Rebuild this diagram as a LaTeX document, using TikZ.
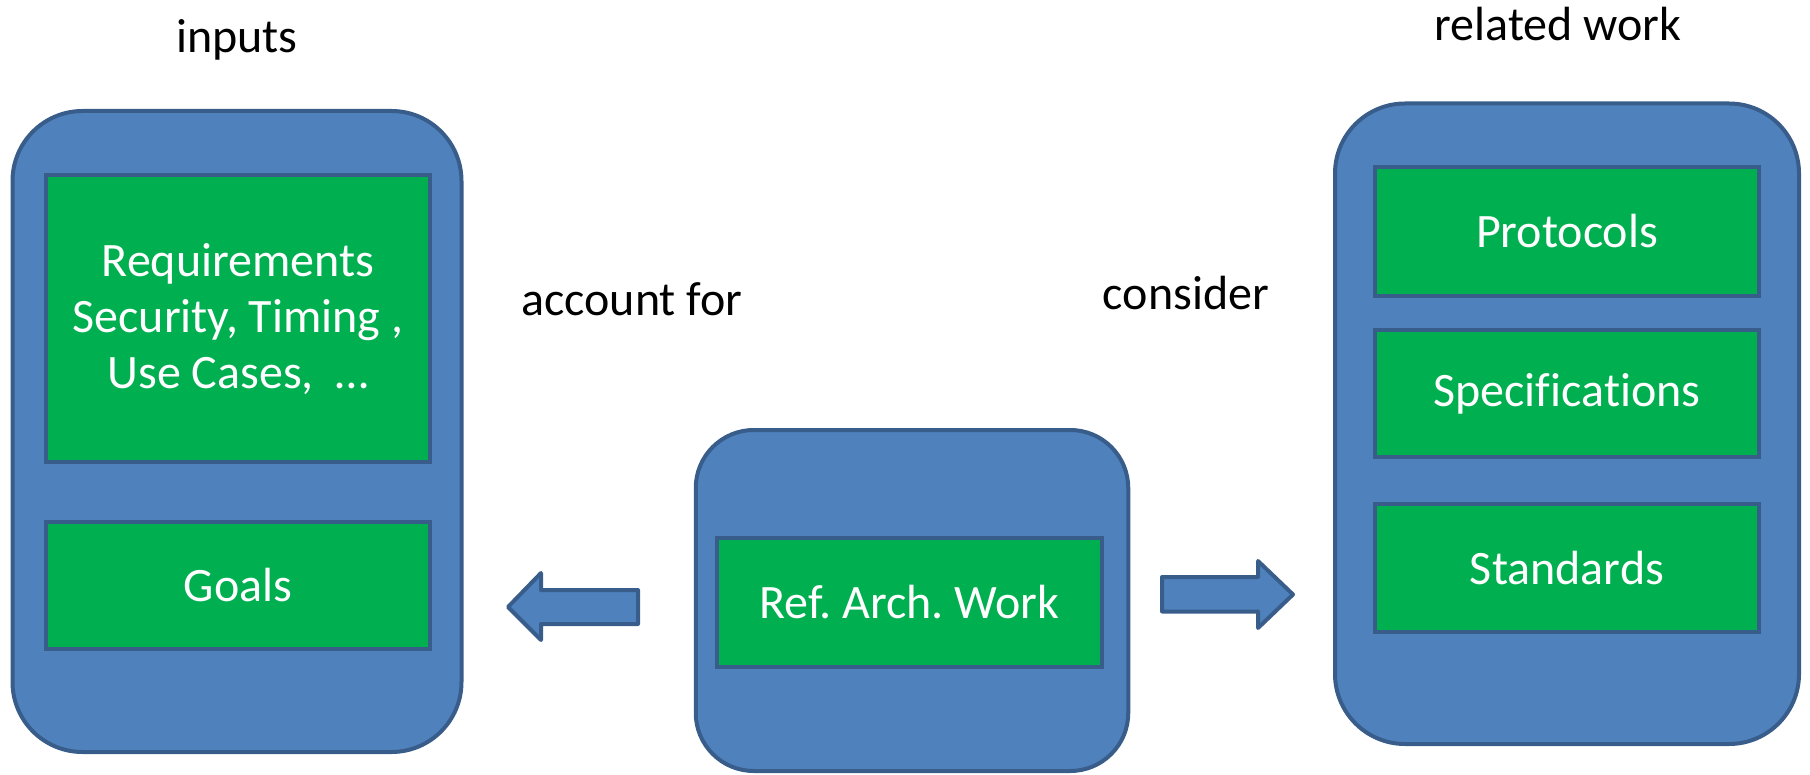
\documentclass[tikz,border=0pt]{standalone}
\usepackage{fontspec}
\setmainfont[Ligatures=NoCommon]{Carlito}
\frenchspacing
\definecolor{boxblue}{HTML}{4F81BD}
\definecolor{edgeblue}{HTML}{385D8A}
\definecolor{boxgreen}{HTML}{00B050}
\begin{document}
\begin{tikzpicture}[x=0.5pt,y=-0.5pt,
  outerbox/.style={draw=edgeblue,fill=boxblue,line width=2pt,rounded corners=35pt,inner sep=0pt},
  greenbox/.style={draw=edgeblue,fill=boxgreen,line width=2pt,inner sep=0pt,text=white,
    font=\fontsize{24pt}{28pt}\selectfont,align=center,minimum width=192pt},
  caption/.style={anchor=base,font=\fontsize{24pt}{28pt}\selectfont,text=black,inner sep=0pt},
  blockarrow/.style={draw=edgeblue,fill=boxblue,line width=2pt,line join=round}]
\useasboundingbox (0,0) rectangle (1810,775);
% outer containers
\node[outerbox,minimum width=224.5pt,minimum height=320.5pt] (inputsbox) at (237,431.5) {};
\node[outerbox,minimum width=216.25pt,minimum height=170.5pt,rounded corners=29pt] (refbox) at (912,600.5) {};
\node[outerbox,minimum width=232pt,minimum height=320.25pt] (relbox) at (1567,423.75) {};
% green boxes
\node[greenbox,minimum height=143.25pt] (req) at (238,318.75) {Requirements\\Security, Timing ,\\Use Cases,~ …};
\node[greenbox,minimum height=63.5pt] (goals) at (238,585) {Goals};
\node[greenbox,minimum width=192.5pt,minimum height=64.5pt] (ref) at (909.5,602.5) {Ref. Arch. Work};
\node[greenbox,minimum height=64.5pt] (proto) at (1567,231.5) {Protocols};
\node[greenbox,minimum height=63.5pt] (spec) at (1567,393.5) {Specifications};
\node[greenbox,minimum height=64pt] (std) at (1567,568) {Standards};
% captions
\node[caption] (inputs) at (237,53) {inputs};
\node[caption] (related) at (1558,40.5) {related work};
\node[caption] (account) at (632,315) {account for};
\node[caption] (consider) at (1186,309) {consider};
% block arrows
\draw[blockarrow] (638,590) -- (541,590) -- (541,573) -- (508,607) -- (541,640) -- (541,624) -- (638,624) -- cycle;
\draw[blockarrow] (1162,577) -- (1258,577) -- (1258,561) -- (1293,594.5) -- (1258,628) -- (1258,611.5) -- (1162,611.5) -- cycle;
\end{tikzpicture}
\end{document}
